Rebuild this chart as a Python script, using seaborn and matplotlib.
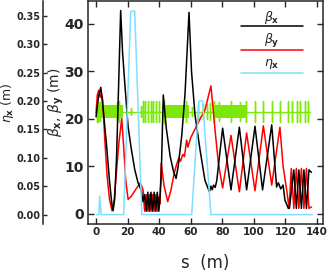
import numpy as np
import pandas as pd
import matplotlib
matplotlib.use('Agg')
import matplotlib.pyplot as plt
import seaborn as sns

# beta_x along the line (s in m, beta in m)
bx_s = [0, 1.5, 3.0, 4.5, 6.5, 8.5, 10.0, 10.8, 11.8, 13.0, 14.3, 15.6, 16.8, 18.2, 20.3, 22.4,
        24.5, 26.6, 28.7, 29.8, 30.8, 31.8, 32.8, 33.8, 34.8, 35.8, 36.8, 37.8, 38.8, 39.8, 40.5,
        41.3, 42.6, 44.5, 47.0, 49.0, 50.7, 52.1, 54.3, 56.4, 58.9, 60.5, 62.7, 65.9, 69.0, 71.8,
        72.8, 73.6, 74.5, 75.5, 76.5, 80.2, 85.5, 90.8, 95.4, 100.7, 105.5, 111.3, 114.4, 115.5,
        117.0, 118.5, 119.7, 121.8, 122.5, 125.3, 126.9, 128.5, 130.1, 131.7, 133.3, 134.9, 136.5]
bx = [20.4, 24.5, 26.6, 22.0, 15.0, 7.0, 2.0, 0.6, 3.0, 12.0, 27.0, 42.8, 34.0, 27.5, 18.3, 13.5,
      9.3, 6.5, 4.8, 2.5, 4.0, 0.5, 4.5, 0.5, 4.5, 0.5, 4.5, 0.5, 4.5, 0.5, 3.5,
      8.0, 25.0, 18.0, 12.0, 9.0, 7.4, 10.1, 16.4, 25.4, 42.4, 29.9, 20.8, 13.4, 7.0, 4.6,
      5.8, 5.0, 6.0, 5.5, 7.0, 18.0, 5.0, 18.2, 5.0, 18.4, 5.0, 18.7, 5.6, 6.5,
      5.2, 6.0, 2.8, 1.1, 1.1, 9.2, 1.1, 9.2, 1.1, 9.2, 1.1, 9.2, 8.7]

# beta_y
by_s = [0, 0.8, 1.7, 2.6, 3.5, 4.3, 5.5, 7.0, 8.5, 10.1, 11.5, 13.0, 14.5, 16.3, 17.5, 18.8,
        20.3, 22.0, 24.0, 26.0, 28.0, 29.8, 30.8, 31.8, 32.8, 33.8, 34.8, 35.8, 36.8, 37.8, 38.8,
        39.8, 40.5, 41.3, 43.0, 45.4, 47.5, 49.5, 51.0, 52.5, 53.5, 55.0, 56.0, 57.4, 58.2, 60.0,
        63.0, 66.0, 69.0, 71.0, 72.8, 75.4, 77.5, 80.2, 85.5, 90.8, 95.4, 100.7, 106.0, 111.3,
        116.5, 118.5, 120.8, 122.3, 123.7, 125.3, 126.9, 128.5, 130.1, 131.7, 133.3, 134.9, 136.5]
by = [21.2, 25.0, 26.0, 24.5, 25.3, 23.8, 15.8, 8.0, 3.0, 0.6, 3.0, 9.0, 15.0, 20.0, 14.0, 7.0,
      3.0, 3.5, 4.5, 5.5, 6.5, 5.0, 0.5, 4.0, 0.5, 4.0, 0.5, 4.0, 0.5, 4.0, 0.5,
      3.5, 2.0, 10.6, 6.0, 2.5, 5.0, 8.5, 10.3, 11.8, 11.0, 12.5, 12.0, 15.5, 14.0, 16.0,
      18.0, 20.0, 21.8, 24.5, 26.9, 17.6, 10.6, 5.4, 16.5, 4.6, 17.0, 4.8, 18.5, 6.0,
      18.2, 10.0, 4.9, 1.1, 9.5, 1.1, 9.5, 1.1, 9.5, 1.1, 9.5, 1.1, 1.4]

# horizontal dispersion
eta_s = [0, 1.8, 2.3, 3.2, 17.5, 22.0, 24.5, 29.0, 60.6, 65.2, 67.5, 72.8, 137.0]
eta = [0, 0, 0.033, 0, 0, 0.358, 0.358, 0, 0, 0.20, 0.20, 0, 0]

# magnet layout (green): dense quad blocks and single kicks
band_start = [0.0, 42.4, 74.3]
band_end = [16.8, 59.0, 95.5]
kick_s = [0.5, 1.5, 2.5, 13.5, 14.5, 22.4, 28.5, 29.8, 31.2, 32.9, 34.6, 36.1, 38.2, 39.7,
          43.0, 57.0, 61.0, 64.5, 67.5, 70.0, 72.5, 75.0, 78.0, 85.5, 91.0, 95.0,
          100.7, 106.0, 111.3, 116.5, 121.8, 123.9, 127.1, 129.2, 132.4, 134.5]
kick_h = [2.3, 2.3, 2.0, 2.0, 2.2, 0.8, 1.2, 2.2, 2.2, 2.2, 2.2, 2.2, 2.2, 2.2,
          2.4, 2.2, 1.0, 1.5, 1.5, 1.5, 1.8, 2.3, 2.0, 2.2, 2.0, 2.2,
          2.2, 2.2, 2.2, 2.2, 2.2, 2.2, 2.2, 2.2, 2.2, 2.2]
green_base = 21.5
green_end = 135.5

sns.set_style('ticks')
plt.rcParams['font.family'] = ['DejaVu Sans']

fig = plt.figure(figsize=(3.27, 2.71), dpi=100)
ax = fig.add_axes([0.2691, 0.1734, 0.7187, 0.8229])
ax2 = ax.twinx()

# green element line
gx, gy = [0.0], [green_base]
for s, h in zip(kick_s, kick_h):
    gx += [s, s, s, s]
    gy += [green_base, green_base + h, green_base - h, green_base]
gx.append(green_end)
gy.append(green_base)
green = '#7CE80A'
for a, b in zip(band_start, band_end):
    ax.fill_between([a, b], green_base - 1.4, green_base + 1.4, color=green, lw=0, zorder=3)
sns.lineplot(x=gx, y=gy, ax=ax, sort=False, estimator=None, color=green, lw=1.0, zorder=3)

sns.lineplot(x=by_s, y=by, ax=ax, sort=False, estimator=None, color='#FF0000', lw=1.1, zorder=4)
sns.lineplot(x=bx_s, y=bx, ax=ax, sort=False, estimator=None, color='black', lw=1.1, zorder=5)
sns.lineplot(x=eta_s, y=eta, ax=ax2, sort=False, estimator=None, color='#7FDFFF', lw=1.1)

ax.set_xlim(-5.1, 143.8)
ax.set_ylim(-2.2, 44.8)
ax2.set_ylim(-0.0165, 0.376)

ax.set_xticks([0, 20, 40, 60, 80, 100, 120, 140])
ax.set_yticks([0, 10, 20, 30, 40])
ax.tick_params(axis='both', direction='in', length=4, width=1, top=True, right=True)
ax.tick_params(axis='x', labelsize=7.5, pad=2)
ax.tick_params(axis='y', labelsize=10, pad=3)
for lab in ax.get_xticklabels() + ax.get_yticklabels():
    lab.set_fontweight('bold')
for sp in ax.spines.values():
    sp.set_linewidth(1.1)

# dispersion axis: offset spine on the left
ax2.yaxis.set_ticks_position('left')
ax2.yaxis.set_label_position('left')
ax2.spines['left'].set_position(('axes', -0.1915))
ax2.spines['left'].set_visible(True)
ax2.spines['left'].set_linewidth(1.1)
for k in ['right', 'top', 'bottom']:
    ax2.spines[k].set_visible(False)
ax2.set_yticks([0, 0.05, 0.10, 0.15, 0.20, 0.25, 0.30, 0.35])
ax2.set_yticklabels(['%.2f' % v for v in ax2.get_yticks()])
ax2.tick_params(axis='y', direction='in', length=3, width=1, labelsize=7, pad=2)
for lab in ax2.get_yticklabels():
    lab.set_fontweight('bold')

ax.set_xlabel('s  (m)', fontsize=12)
ax.xaxis.set_label_coords(0.5, -0.135)
ax.set_ylabel(r'$\beta_\mathbf{x}$, $\beta_\mathbf{y}$ (m)', fontsize=10)
ax.yaxis.set_label_coords(-0.095, 0.545)
ax2.set_ylabel(r'$\eta_\mathbf{x}$ (m)', fontsize=9)
ax2.yaxis.set_label_coords(-0.308, 0.545)

# legend: label above its line
leg_lab = [r'$\beta_\mathbf{x}$', r'$\beta_\mathbf{y}$', r'$\eta_\mathbf{x}$']
leg_col = ['black', '#FF0000', '#7FDFFF']
leg_ty = [0.928, 0.821, 0.717]
leg_ly = [0.888, 0.780, 0.677]
for lab, c, ty, ly in zip(leg_lab, leg_col, leg_ty, leg_ly):
    ax.text(0.783, ty, lab, transform=ax.transAxes, ha='center', va='center', fontsize=9,
            fontweight='bold', zorder=6)
    ax.plot([0.65, 0.916], [ly, ly], transform=ax.transAxes, color=c, lw=1.1, zorder=6)

fig.savefig('out.png', dpi=100)
